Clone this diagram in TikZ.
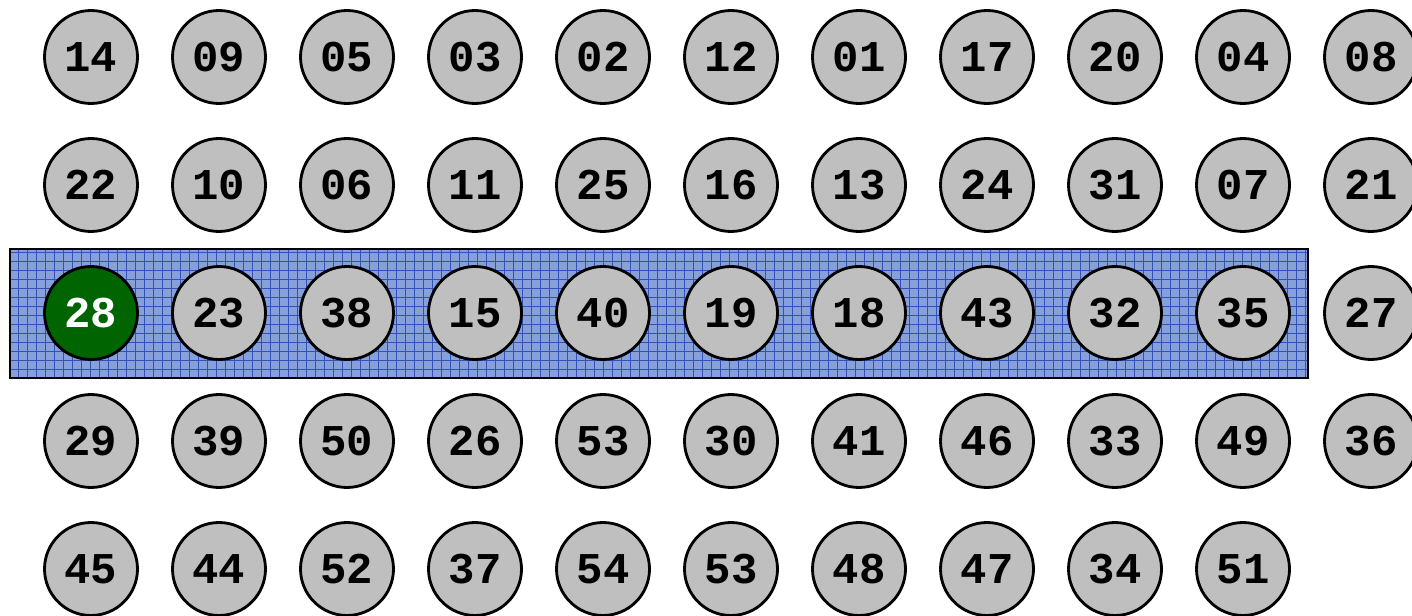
\documentclass[tikz,border=0pt]{standalone}
\usepackage{fontspec}
\setmonofont{Liberation Mono}
\usetikzlibrary{positioning}
\definecolor{bandfill}{RGB}{135,160,218}
\definecolor{bandgrid}{RGB}{50,80,185}
\definecolor{pickgreen}{RGB}{0,100,0}

\begin{document}
\begin{tikzpicture}[
  x=0.2mm, y=-0.2mm,
  ball/.style={circle, draw=black, line width=1.6pt, fill=black!25, minimum size=18.6mm,
               inner sep=0pt, font=\ttfamily\bfseries\fontsize{25}{25}\selectfont},
  pick/.style={ball, fill=pickgreen, text=white},
  band/.style={draw=black, line width=1.6pt},
  bandlines/.style={draw=bandgrid, line width=0.45pt},
]
\useasboundingbox (0,0) rectangle (1412,616);

% ---- highlighted row ----
\fill[bandfill] (10,249) rectangle (1308,378);
\draw[bandlines, step=1.8mm] (10,249) grid (1308,378);
\draw[band] (10,249) rectangle (1308,378);

% ---- the balls, row by row ----
\foreach \row [count=\r] in {%
  {14,09,05,03,02,12,01,17,20,04,08},
  {22,10,06,11,25,16,13,24,31,07,21},
  {28,23,38,15,40,19,18,43,32,35,27},
  {29,39,50,26,53,30,41,46,33,49,36},
  {45,44,52,37,54,53,48,47,34,51}}{
  \foreach \lab [count=\c] in \row {
    \def\sty{ball}
    \ifnum\r=3 \ifnum\c=1 \def\sty{pick}\fi\fi
    \node[\sty] (b\r-\c) at ({91+128*(\c-1)},{57+128*(\r-1)}) {\lab};
  }
}
\end{tikzpicture}
\end{document}
